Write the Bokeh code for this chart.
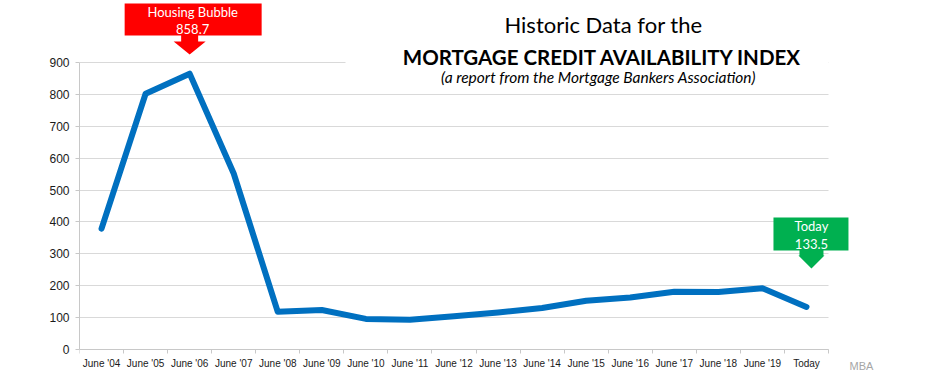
from bokeh.plotting import figure
from bokeh.models import Range1d, FixedTicker, Label, PolyAnnotation, BoxAnnotation
from bokeh.embed import file_html
from bokeh.resources import INLINE

categories = ["June '04", "June '05", "June '06", "June '07", "June '08", "June '09",
              "June '10", "June '11", "June '12", "June '13", "June '14", "June '15",
              "June '16", "June '17", "June '18", "June '19", "Today"]
values = [379, 802, 865, 552, 118, 124, 96, 93, 104, 116, 130, 153, 163, 181, 180, 192, 133.5]
y_ticks = [0, 100, 200, 300, 400, 500, 600, 700, 800, 900]
peak_text = ["Housing Bubble", "858.7"]
today_text = ["Today", "133.5"]
title_lines = ["Historic Data for the", "MORTGAGE CREDIT AVAILABILITY INDEX",
               "(a report from the Mortgage Bankers Association)"]
source_note = "MBA"

n = len(categories)
xs = [i + 0.5 for i in range(n)]
Y_MAX = 900

# layout (page pixels): data area of the chart
W, H = 936, 383
FL, FR, FT, FB = 79, 828, 62, 349


def dx(px):
    return (px - FL) / (FR - FL) * n


def dy(py):
    return (FB - py) / (FB - FT) * Y_MAX


# the frame spans the canvas except the y-axis panel, so that the
# callouts, titles and source note lie inside it
x_end = dx(W)
y_top = dy(0)
y_bottom = dy(H)

p = figure(width=W, height=H, output_backend="svg", toolbar_location=None,
           x_range=Range1d(0, x_end), y_range=Range1d(y_bottom, y_top),
           min_border_left=FL, min_border_right=0,
           min_border_top=0, min_border_bottom=0)
p.outline_line_color = None
p.background_fill_color = "white"
p.border_fill_color = "white"

# grid & axes
p.xgrid.visible = False
p.ygrid.ticker = FixedTicker(ticks=y_ticks)
p.ygrid.grid_line_color = "#d9d9d9"
p.ygrid.grid_line_width = 1

xa = p.xaxis[0]
xa.fixed_location = 0
xa.bounds = (0, n)
xa.ticker = FixedTicker(ticks=xs, minor_ticks=list(range(n + 1)))
xa.major_label_overrides = {x: c for x, c in zip(xs, categories)}
xa.major_tick_line_color = None
xa.major_tick_out = 0
xa.major_tick_in = 0
xa.minor_tick_line_color = "#c8c8c8"
xa.minor_tick_out = 4
xa.minor_tick_in = 0
xa.major_label_standoff = 4
xa.major_label_text_font = "Liberation Sans"
xa.major_label_text_font_size = "10px"
xa.major_label_text_color = "#1a1a1a"
xa.axis_line_color = "#c8c8c8"

ya = p.yaxis[0]
ya.bounds = (0, Y_MAX)
ya.ticker = FixedTicker(ticks=y_ticks)
ya.major_tick_out = 4
ya.major_tick_in = 0
ya.major_tick_line_color = "#c8c8c8"
ya.minor_tick_line_color = None
ya.major_label_standoff = 6
ya.major_label_text_font = "Liberation Sans"
ya.major_label_text_font_size = "12px"
ya.major_label_text_color = "#1a1a1a"
ya.axis_line_color = "#c8c8c8"

# white covers: gridlines end at the last category; title area hides the top gridline
p.add_layout(BoxAnnotation(left=n, right=x_end, bottom=-20, top=dy(50), level="underlay",
                           fill_color="white", fill_alpha=1, line_color=None))
p.add_layout(BoxAnnotation(left=dx(345), right=n, bottom=dy(66), top=dy(58), level="underlay",
                           fill_color="white", fill_alpha=1, line_color=None))

# data line
p.line(xs, values, line_width=6, line_color="#0070C0", line_join="round", line_cap="round")


def callout(ax, left, right, top, bottom, stem_hw, stem_end, head_hw, tip, color):
    pts = [(left, top), (right, top), (right, bottom), (ax + stem_hw, bottom),
           (ax + stem_hw, stem_end), (ax + head_hw, stem_end), (ax, tip),
           (ax - head_hw, stem_end), (ax - stem_hw, stem_end), (ax - stem_hw, bottom),
           (left, bottom)]
    p.add_layout(PolyAnnotation(xs=[dx(a) for a, b in pts], ys=[dy(b) for a, b in pts],
                                xs_units="data", ys_units="data",
                                fill_color=color, fill_alpha=1, line_color=None))


def label(px, py, text, size, color="white", style="normal", font="Lato"):
    p.add_layout(Label(x=dx(px), y=dy(py), text=text, text_align="center",
                       text_baseline="middle", text_font=font, text_font_size=size,
                       text_color=color, text_font_style=style))


# peak callout
peak_i = max(range(n), key=lambda i: values[i])
ax = FL + xs[peak_i] / n * (FR - FL)
callout(ax, ax - 65, ax + 72, 3, 35, 8.5, 41, 16, 54, "#FF0000")
label(ax + 3, 11, peak_text[0], "13px")
label(ax + 3, 28, peak_text[1], "13px")

# today callout
ax2 = FL + xs[-1] / n * (FR - FL) + 5
callout(ax2, ax2 - 38, ax2 + 37, 217, 250, 12, 255, 13, 268, "#00B050")
label(ax2, 225, today_text[0], "13px")
label(ax2, 243, today_text[1], "13px")

# titles
label(603, 24, title_lines[0], "22px", color="black")
label(602, 56, title_lines[1], "20.5px", color="black", style="bold")
label(598, 76, title_lines[2], "15.5px", color="black", style="italic")

label(861, 365, source_note, "11px", color="#a6a6a6", font="Liberation Sans")

open("out.html", "w").write(file_html(p, INLINE))
